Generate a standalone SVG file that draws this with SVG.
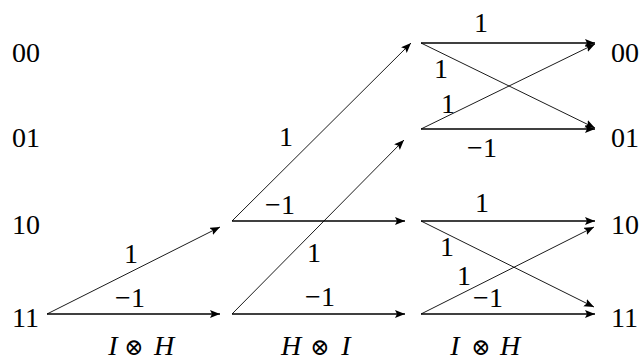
<svg xmlns="http://www.w3.org/2000/svg" width="640" height="360" viewBox="0 0 640 360">
<defs>
<marker id="ah" markerUnits="userSpaceOnUse" markerWidth="12" markerHeight="9" refX="10" refY="4" orient="auto">
<path d="M0,0 L10,4 L0,8 L2,4 Z" fill="#000"/>
</marker>
<style>
.t{font-family:'Liberation Serif','Times New Roman',serif;font-size:28px;fill:#000}
.c{text-anchor:middle}
.it{font-style:italic}
.ot{font-family:'DejaVu Serif',serif;font-size:23px}
.thick{stroke:#000;stroke-width:1.7;fill:none;marker-end:url(#ah)}
.thin{stroke:#000;stroke-width:0.9;fill:none;marker-end:url(#ah)}
</style>
</defs>
<rect width="640" height="360" fill="#fff"/>
<g id="states-left">
<text class="t" x="12" y="62">00</text>
<text class="t" x="12" y="147">01</text>
<text class="t" x="12" y="234">10</text>
<text class="t" x="12" y="327">11</text>
</g>
<g id="states-right">
<text class="t" x="611" y="62">00</text>
<text class="t" x="611" y="147">01</text>
<text class="t" x="611" y="234">10</text>
<text class="t" x="611" y="327">11</text>
</g>
<g id="edge-labels">
<text class="t c" x="131" y="263">1</text>
<text class="t c" x="130" y="307">−1</text>
<text class="t c" x="286" y="146">1</text>
<text class="t c" x="280" y="214">−1</text>
<text class="t c" x="314" y="262">1</text>
<text class="t c" x="320" y="306">−1</text>
<text class="t c" x="481" y="32">1</text>
<text class="t c" x="441" y="78">1</text>
<text class="t c" x="448" y="113">1</text>
<text class="t c" x="482" y="157">−1</text>
<text class="t c" x="482" y="212">1</text>
<text class="t c" x="447" y="256">1</text>
<text class="t c" x="464" y="285">1</text>
<text class="t c" x="488" y="307">−1</text>
</g>
<g id="operators">
<text class="t c" y="355"><tspan class="it" x="113">I</tspan><tspan class="ot" x="134">⊗</tspan><tspan class="it" x="164">H</tspan></text>
<text class="t c" y="355"><tspan class="it" x="291">H</tspan><tspan class="ot" x="320">⊗</tspan><tspan class="it" x="346">I</tspan></text>
<text class="t c" y="355"><tspan class="it" x="455">I</tspan><tspan class="ot" x="481">⊗</tspan><tspan class="it" x="510">H</tspan></text>
</g>
<g id="connectors">
<line class="thick" x1="47" y1="314" x2="220" y2="314"/>
<line class="thin" x1="47" y1="314" x2="220" y2="227"/>
<line class="thick" x1="232" y1="221" x2="405" y2="221"/>
<line class="thick" x1="232" y1="314" x2="405" y2="314"/>
<line class="thin" x1="232" y1="221" x2="411" y2="43"/>
<line class="thin" x1="232" y1="314" x2="404" y2="140"/>
<line class="thick" x1="421" y1="43" x2="595" y2="43"/>
<line class="thick" x1="421" y1="129" x2="595" y2="129"/>
<line class="thin" x1="421" y1="43" x2="595" y2="128"/>
<line class="thin" x1="421" y1="129" x2="595" y2="44"/>
<line class="thick" x1="421" y1="221" x2="595" y2="221"/>
<line class="thick" x1="421" y1="314" x2="595" y2="314"/>
<line class="thin" x1="421" y1="221" x2="594" y2="307"/>
<line class="thin" x1="421" y1="314" x2="594" y2="227"/>
</g>
</svg>
